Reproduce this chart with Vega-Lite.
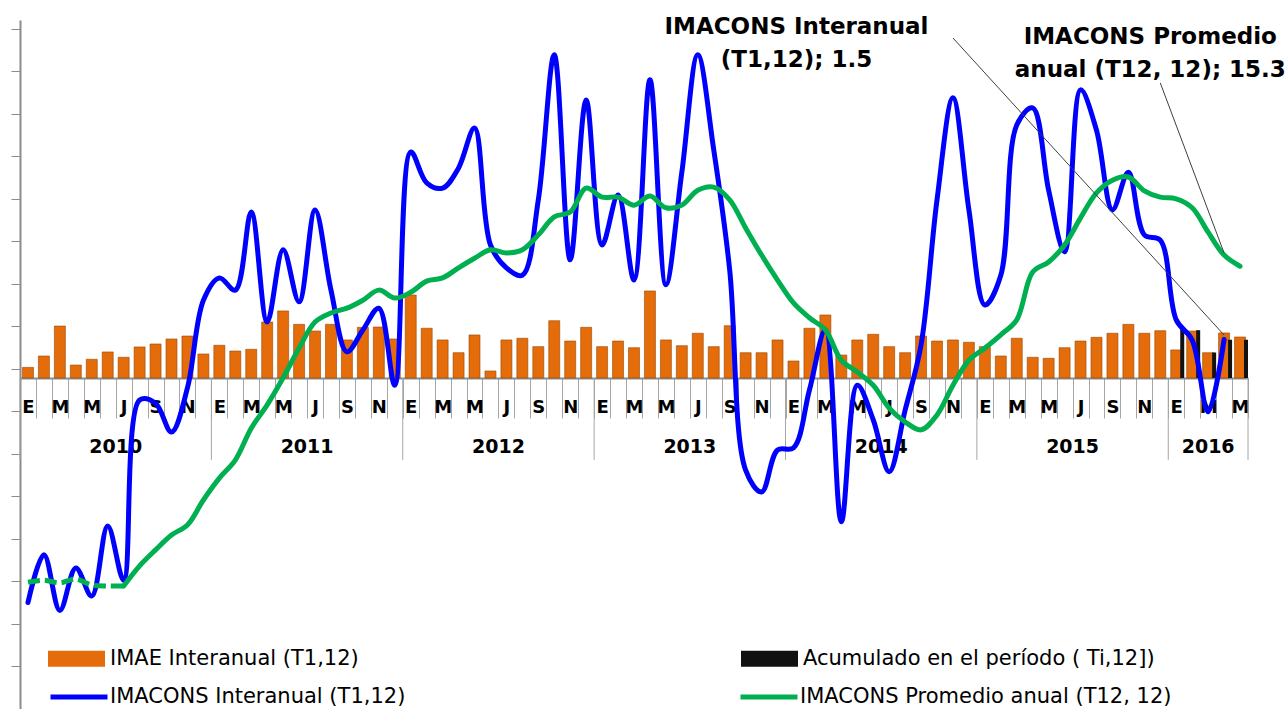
{
  "$schema": "https://vega.github.io/schema/vega-lite/v6.json",
  "width": 1228,
  "height": 689,
  "autosize": {"type": "none"},
  "padding": {"left": 20, "top": 20, "right": 38, "bottom": 0},
  "background": "white",
  "config": {"view": {"stroke": null}, "font": "DejaVu Sans"},
  "data": {"values": [
    {"i":0,"year":2010,"mon":1,"imae":1.0,"blue":-48.0,"green":-44.2},
    {"i":1,"year":2010,"mon":2,"imae":2.07,"blue":-39.0,"green":-43.8},
    {"i":2,"year":2010,"mon":3,"imae":4.89,"blue":-49.5,"green":-44.3},
    {"i":3,"year":2010,"mon":4,"imae":1.22,"blue":-41.5,"green":-43.6},
    {"i":4,"year":2010,"mon":5,"imae":1.76,"blue":-46.8,"green":-44.7},
    {"i":5,"year":2010,"mon":6,"imae":2.45,"blue":-33.6,"green":-44.9},
    {"i":6,"year":2010,"mon":7,"imae":1.95,"blue":-43.8,"green":-44.9},
    {"i":7,"year":2010,"mon":8,"imae":2.92,"blue":-9.9,"green":-41.1},
    {"i":8,"year":2010,"mon":9,"imae":3.2,"blue":-10.5,"green":-38.1},
    {"i":9,"year":2010,"mon":10,"imae":3.67,"blue":-15.9,"green":-35.3},
    {"i":10,"year":2010,"mon":11,"imae":3.95,"blue":-7.6,"green":-33.4},
    {"i":11,"year":2010,"mon":12,"imae":2.26,"blue":8.9,"green":-28.7},
    {"i":12,"year":2011,"mon":1,"imae":3.08,"blue":13.1,"green":-24.6},
    {"i":13,"year":2011,"mon":2,"imae":2.54,"blue":10.8,"green":-21.2},
    {"i":14,"year":2011,"mon":3,"imae":2.7,"blue":25.5,"green":-15.2},
    {"i":15,"year":2011,"mon":4,"imae":5.27,"blue":4.8,"green":-10.8},
    {"i":16,"year":2011,"mon":5,"imae":6.31,"blue":18.4,"green":-5.7},
    {"i":17,"year":2011,"mon":6,"imae":5.05,"blue":8.6,"green":-0.1},
    {"i":18,"year":2011,"mon":7,"imae":4.42,"blue":25.9,"green":4.8},
    {"i":19,"year":2011,"mon":8,"imae":5.05,"blue":10.8,"green":6.5},
    {"i":20,"year":2011,"mon":9,"imae":3.58,"blue":-0.8,"green":7.4},
    {"i":21,"year":2011,"mon":10,"imae":4.77,"blue":3.3,"green":8.9},
    {"i":22,"year":2011,"mon":11,"imae":4.8,"blue":7.4,"green":10.8},
    {"i":23,"year":2011,"mon":12,"imae":3.67,"blue":-7.1,"green":9.3},
    {"i":24,"year":2012,"mon":1,"imae":7.81,"blue":36.8,"green":10.4},
    {"i":25,"year":2012,"mon":2,"imae":4.68,"blue":31.0,"green":12.5},
    {"i":26,"year":2012,"mon":3,"imae":3.58,"blue":30.0,"green":13.1},
    {"i":27,"year":2012,"mon":4,"imae":2.38,"blue":33.8,"green":15.0},
    {"i":28,"year":2012,"mon":5,"imae":4.05,"blue":41.3,"green":16.8},
    {"i":29,"year":2012,"mon":6,"imae":0.66,"blue":19.3,"green":18.4},
    {"i":30,"year":2012,"mon":7,"imae":3.58,"blue":15.0,"green":17.8},
    {"i":31,"year":2012,"mon":8,"imae":3.74,"blue":13.6,"green":18.4},
    {"i":32,"year":2012,"mon":9,"imae":2.95,"blue":27.8,"green":21.2},
    {"i":33,"year":2012,"mon":10,"imae":5.39,"blue":55.1,"green":24.6},
    {"i":34,"year":2012,"mon":11,"imae":3.48,"blue":16.5,"green":25.5},
    {"i":35,"year":2012,"mon":12,"imae":4.77,"blue":46.6,"green":30.0},
    {"i":36,"year":2013,"mon":1,"imae":2.95,"blue":19.3,"green":28.3},
    {"i":37,"year":2013,"mon":2,"imae":3.48,"blue":28.7,"green":28.3},
    {"i":38,"year":2013,"mon":3,"imae":2.85,"blue":12.7,"green":26.8},
    {"i":39,"year":2013,"mon":4,"imae":8.19,"blue":50.4,"green":28.5},
    {"i":40,"year":2013,"mon":5,"imae":3.58,"blue":11.8,"green":26.3},
    {"i":41,"year":2013,"mon":6,"imae":3.04,"blue":33.0,"green":26.8},
    {"i":42,"year":2013,"mon":7,"imae":4.21,"blue":55.1,"green":29.6},
    {"i":43,"year":2013,"mon":8,"imae":2.95,"blue":37.2,"green":30.2},
    {"i":44,"year":2013,"mon":9,"imae":4.92,"blue":14.6,"green":27.8},
    {"i":45,"year":2013,"mon":10,"imae":2.38,"blue":-23.1,"green":22.5},
    {"i":46,"year":2013,"mon":11,"imae":2.38,"blue":-27.2,"green":17.4},
    {"i":47,"year":2013,"mon":12,"imae":3.58,"blue":-19.3,"green":12.7},
    {"i":48,"year":2014,"mon":1,"imae":1.6,"blue":-18.9,"green":8.4},
    {"i":49,"year":2014,"mon":2,"imae":4.68,"blue":-8.0,"green":5.6},
    {"i":50,"year":2014,"mon":3,"imae":5.93,"blue":3.3,"green":3.3},
    {"i":51,"year":2014,"mon":4,"imae":2.16,"blue":-32.8,"green":-2.4},
    {"i":52,"year":2014,"mon":5,"imae":3.58,"blue":-7.1,"green":-4.6},
    {"i":53,"year":2014,"mon":6,"imae":4.11,"blue":-13.6,"green":-7.1},
    {"i":54,"year":2014,"mon":7,"imae":2.95,"blue":-23.4,"green":-11.4},
    {"i":55,"year":2014,"mon":8,"imae":2.38,"blue":-11.8,"green":-14.0},
    {"i":56,"year":2014,"mon":9,"imae":3.95,"blue":0.5,"green":-15.5},
    {"i":57,"year":2014,"mon":10,"imae":3.48,"blue":27.8,"green":-12.7},
    {"i":58,"year":2014,"mon":11,"imae":3.58,"blue":47.0,"green":-7.1},
    {"i":59,"year":2014,"mon":12,"imae":3.36,"blue":25.9,"green":-2.4},
    {"i":60,"year":2015,"mon":1,"imae":2.95,"blue":8.0,"green":-0.1},
    {"i":61,"year":2015,"mon":2,"imae":2.07,"blue":13.6,"green":2.4},
    {"i":62,"year":2015,"mon":3,"imae":3.74,"blue":41.9,"green":5.2},
    {"i":63,"year":2015,"mon":4,"imae":1.95,"blue":45.1,"green":14.2},
    {"i":64,"year":2015,"mon":5,"imae":1.85,"blue":29.6,"green":16.1},
    {"i":65,"year":2015,"mon":6,"imae":2.85,"blue":18.0,"green":19.3},
    {"i":66,"year":2015,"mon":7,"imae":3.48,"blue":48.5,"green":24.4},
    {"i":67,"year":2015,"mon":8,"imae":3.83,"blue":40.9,"green":29.1},
    {"i":68,"year":2015,"mon":9,"imae":4.21,"blue":25.9,"green":31.5},
    {"i":69,"year":2015,"mon":10,"imae":5.05,"blue":33.0,"green":32.1},
    {"i":70,"year":2015,"mon":11,"imae":4.21,"blue":21.2,"green":29.5},
    {"i":71,"year":2015,"mon":12,"imae":4.45,"blue":20.2,"green":28.3},
    {"i":72,"year":2016,"mon":1,"imae":2.64,"acum":4.7,"blue":5.2,"green":28.0},
    {"i":73,"year":2016,"mon":2,"imae":4.42,"acum":4.5,"blue":1.4,"green":26.3},
    {"i":74,"year":2016,"mon":3,"imae":2.38,"acum":2.4,"blue":-12.1,"green":21.7},
    {"i":75,"year":2016,"mon":4,"imae":4.24,"acum":3.6,"blue":1.5,"green":17.4},
    {"i":76,"year":2016,"mon":5,"imae":3.86,"acum":3.6,"blue":null,"green":15.3}
  ]},
  "encoding": {
    "x": {
      "field": "i", "type": "ordinal",
      "scale": {"paddingInner": 0, "paddingOuter": 0},
      "axis": {
        "title": null, "orient": "bottom", "offset": -331,
        "labelExpr": "datum.value % 2 == 0 ? ['E','F','M','A','M','J','J','A','S','O','N','D'][datum.value % 12] : ''",
        "labelAngle": 0, "labelFontSize": 18, "labelFontWeight": "bold", "labelColor": "black",
        "labelPadding": -20, "labelBaseline": "top", "labelOverlap": false,
        "tickBand": "extent", "tickSize": 40, "tickColor": "#a6a6a6", "tickWidth": 1,
        "domainColor": "#8c8c8c", "domainWidth": 2
      }
    }
  },
  "layer": [
    {
      "layer": [
        {
          "mark": {"type": "bar", "width": {"band": 0.69}, "stroke": "#9a4600", "strokeWidth": 0.6},
          "encoding": {
            "y": {"field": "imae", "type": "quantitative", "scale": {"domain": [-31.15, 33.69], "nice": false, "zero": false}, "axis": null},
            "fill": {
              "datum": "IMAE Interanual (T1,12)",
              "scale": {"domain": ["IMAE Interanual (T1,12)", "Acumulado en el período ( Ti,12])"], "range": ["#E46C0A", "#111111"]},
              "legend": {
                "title": null, "orient": "none", "legendX": 28, "legendY": 610, "direction": "horizontal",
                "symbolType": "M-1,-0.28L1,-0.28L1,0.28L-1,0.28Z", "symbolSize": 3249,
                "symbolStrokeWidth": 0, "labelFontSize": 21, "labelColor": "black", "labelOffset": 5,
                "columnPadding": 382, "labelLimit": 600, "padding": 0
              }
            }
          }
        },
        {
          "transform": [{"filter": "isValid(datum.acum)"}],
          "mark": {"type": "bar", "width": 4, "xOffset": 6},
          "encoding": {
            "y": {"field": "acum", "type": "quantitative", "scale": {"domain": [-31.15, 33.69], "nice": false, "zero": false}, "axis": null},
            "fill": {"datum": "Acumulado en el período ( Ti,12])"}
          }
        },
        {
          "transform": [{"filter": "datum.mon == 1"}],
          "mark": {"type": "rule", "color": "#a6a6a6", "strokeWidth": 1},
          "encoding": {
            "x": {"field": "i", "type": "ordinal", "bandPosition": 0},
            "y": {"datum": 0, "type": "quantitative", "scale": {"domain": [-31.15, 33.69], "nice": false, "zero": false}, "axis": null},
            "y2": {"datum": -7.7}
          }
        },
        {
          "transform": [{"filter": "datum.i == 76"}],
          "mark": {"type": "rule", "color": "#a6a6a6", "strokeWidth": 1},
          "encoding": {
            "x": {"field": "i", "type": "ordinal", "bandPosition": 1},
            "y": {"datum": 0, "type": "quantitative", "scale": {"domain": [-31.15, 33.69], "nice": false, "zero": false}, "axis": null},
            "y2": {"datum": -7.7}
          }
        },
        {
          "transform": [{"filter": "datum.mon == 7"}],
          "mark": {"type": "text", "fontSize": 19, "fontWeight": "bold", "color": "black", "baseline": "middle", "align": "center"},
          "encoding": {
            "x": {"field": "i", "type": "ordinal", "bandPosition": 0},
            "y": {"datum": -6.5, "type": "quantitative", "scale": {"domain": [-31.15, 33.69], "nice": false, "zero": false}, "axis": null},
            "text": {"field": "year", "type": "nominal"}
          }
        },
        {
          "transform": [{"filter": "datum.year == 2016 && datum.mon == 3"}],
          "mark": {"type": "text", "fontSize": 19, "fontWeight": "bold", "color": "black", "baseline": "middle", "align": "center"},
          "encoding": {
            "x": {"field": "i", "type": "ordinal"},
            "y": {"datum": -6.5, "type": "quantitative", "scale": {"domain": [-31.15, 33.69], "nice": false, "zero": false}, "axis": null},
            "text": {"field": "year", "type": "nominal"}
          }
        }
      ]
    },
    {
      "layer": [
        {
          "transform": [{"filter": "isValid(datum.blue)"}],
          "mark": {"type": "line", "interpolate": "catmull-rom", "strokeWidth": 5, "strokeCap": "round", "strokeJoin": "round"},
          "encoding": {
            "y": {"field": "blue", "type": "quantitative", "scale": {"domain": [-68.05, 61.65], "nice": false, "zero": false},
              "axis": {"title": null, "orient": "left", "labels": false, "tickSize": 9, "tickColor": "#8c8c8c", "domainColor": "#8c8c8c", "domainWidth": 2, "grid": false,
                "values": [-68,-64,-60,-56,-52,-48,-44,-40,-36,-32,-28,-24,-20,-16,-12,-8,-4,0,4,8,12,16,20,24,28,32,36,40,44,48,52,56,60]}},
            "stroke": {
              "datum": "IMACONS Interanual (T1,12)",
              "scale": {"domain": ["IMACONS Interanual (T1,12)", "IMACONS Promedio anual (T12, 12)"], "range": ["#0000FF", "#00B050"]},
              "legend": {
                "title": null, "orient": "none", "legendX": 28, "legendY": 646, "direction": "horizontal",
                "symbolType": "stroke", "symbolSize": 3249, "symbolStrokeWidth": 5,
                "labelFontSize": 21, "labelColor": "black", "labelOffset": 0,
                "columnPadding": 324, "labelLimit": 600, "padding": 0
              }
            }
          }
        },
        {
          "transform": [{"filter": "datum.i >= 6"}],
          "mark": {"type": "line", "interpolate": "catmull-rom", "strokeWidth": 5, "strokeCap": "round", "strokeJoin": "round"},
          "encoding": {
            "y": {"field": "green", "type": "quantitative", "scale": {"domain": [-68.05, 61.65], "nice": false, "zero": false}},
            "stroke": {"datum": "IMACONS Promedio anual (T12, 12)"}
          }
        },
        {
          "transform": [{"filter": "datum.i <= 6"}],
          "mark": {"type": "line", "interpolate": "catmull-rom", "strokeWidth": 5, "strokeDash": [12, 5]},
          "encoding": {
            "y": {"field": "green", "type": "quantitative", "scale": {"domain": [-68.05, 61.65], "nice": false, "zero": false}},
            "stroke": {"datum": "IMACONS Promedio anual (T12, 12)"}
          }
        },
        {
          "data": {"values": [{}]},
          "mark": {"type": "rule", "color": "#404040", "strokeWidth": 1},
          "encoding": {
            "x": {"datum": 58, "type": "ordinal"},
            "x2": {"datum": 75},
            "y": {"datum": 58.26, "type": "quantitative", "scale": {"domain": [-68.05, 61.65], "nice": false, "zero": false}},
            "y2": {"datum": 2.35}
          }
        },
        {
          "data": {"values": [{}]},
          "mark": {"type": "rule", "color": "#404040", "strokeWidth": 1},
          "encoding": {
            "x": {"datum": 71, "type": "ordinal"},
            "x2": {"datum": 75},
            "y": {"datum": 49.8, "type": "quantitative", "scale": {"domain": [-68.05, 61.65], "nice": false, "zero": false}},
            "y2": {"datum": 17.8}
          }
        },
        {
          "data": {"values": [{}]},
          "mark": {"type": "text", "fontSize": 23, "fontWeight": "bold", "color": "black", "align": "center", "baseline": "alphabetic", "lineHeight": 33, "dx": 3},
          "encoding": {
            "x": {"datum": 48, "type": "ordinal"},
            "y": {"datum": 59.0, "type": "quantitative", "scale": {"domain": [-68.05, 61.65], "nice": false, "zero": false}},
            "text": {"value": ["IMACONS Interanual", "(T1,12); 1.5"]}
          }
        },
        {
          "data": {"values": [{}]},
          "mark": {"type": "text", "fontSize": 23, "fontWeight": "bold", "color": "black", "align": "center", "baseline": "alphabetic", "lineHeight": 33, "dx": -10},
          "encoding": {
            "x": {"datum": 71, "type": "ordinal"},
            "y": {"datum": 57.13, "type": "quantitative", "scale": {"domain": [-68.05, 61.65], "nice": false, "zero": false}},
            "text": {"value": ["IMACONS Promedio", "anual (T12, 12); 15.3"]}
          }
        }
      ]
    }
  ],
  "resolve": {"scale": {"y": "independent"}}
}
